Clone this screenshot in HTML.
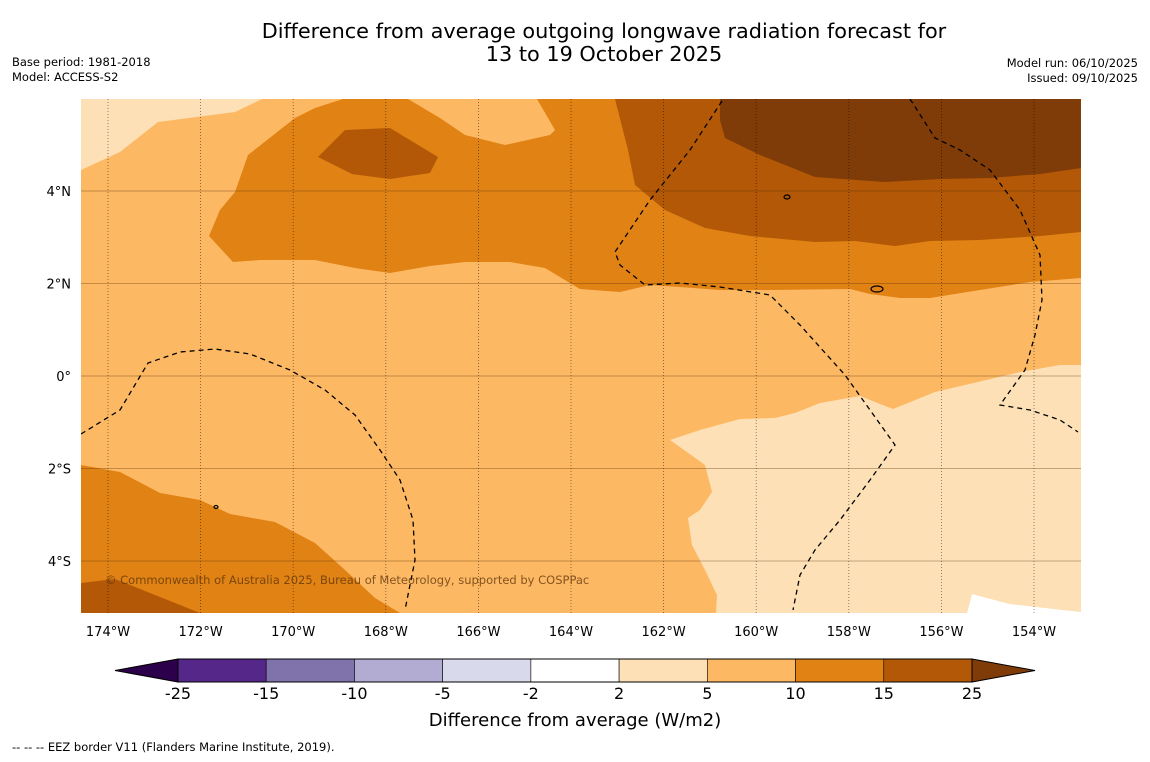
<!DOCTYPE html>
<html><head><meta charset="utf-8">
<style>
body{margin:0;background:#fff;font-family:"DejaVu Sans","Liberation Sans",sans-serif;}
svg text{font-family:"DejaVu Sans","Liberation Sans",sans-serif;}
</style></head>
<body>
<svg id="chart" width="1150" height="758" viewBox="0 0 1150 758" xmlns="http://www.w3.org/2000/svg">
<rect width="1150" height="758" fill="#fff"/>
<text x="604" y="38" font-size="20.8" text-anchor="middle">Difference from average outgoing longwave radiation forecast for</text>
<text x="604" y="61" font-size="20.8" text-anchor="middle">13 to 19 October 2025</text>
<text x="12" y="66" font-size="11.5">Base period: 1981-2018</text>
<text x="12" y="81" font-size="11.5">Model: ACCESS-S2</text>
<text x="1138" y="67" font-size="11.5" text-anchor="end">Model run: 06/10/2025</text>
<text x="1138" y="82" font-size="11.5" text-anchor="end">Issued: 09/10/2025</text>
<defs><clipPath id="mc"><rect x="81" y="99" width="1000" height="514"/></clipPath></defs>
<g clip-path="url(#mc)">
<rect x="81" y="99" width="1000" height="514" fill="#fdb863"/>
<path fill="#fee0b6" d="M81,99 L262,99 235,112 158,122 120,152 81,170Z"/>
<path fill="#e08214" d="M343,99 L408,99 440,118 465,135 505,145 550,135 555,130 537,99 L1081,99 L1081,278 1030,282 980,290 930,298 900,298 870,294 850,289 770,290 720,290 680,287 650,285 620,292 580,289 545,268 510,262 465,262 430,266 390,273 355,268 315,260 260,260 233,262 209,236 220,210 235,192 248,155 295,118 315,108Z"/>
<path fill="#b35806" d="M318,157 L345,130 390,128 438,157 430,173 390,179 352,174Z"/>
<path fill="#b35806" d="M615,99 L1081,99 1081,232 1040,236 980,240 930,241 895,246 855,241 815,242 750,236 705,228 665,210 635,185 628,150Z"/>
<path fill="#7f3b08" d="M720,99 L1081,99 1081,168 1040,174 990,178 940,179 885,182 815,177 760,155 725,138 720,120Z"/>
<path fill="#e08214" d="M81,465 L120,472 160,493 200,500 230,514 275,522 315,543 345,570 375,598 400,613 81,613Z"/>
<path fill="#b35806" d="M81,583 L115,579 150,593 200,613 81,613Z"/>
<path fill="#fee0b6" d="M670,440 L705,465 712,492 700,510 688,518 692,545 705,570 717,595 716,613 967,613 972,594 1010,604 1081,612 1081,365 1060,365 1020,372 965,385 935,392 893,409 860,396 820,403 795,413 775,418 740,419 700,430Z"/>
<path fill="#fff" d="M967,613 L972,594 1010,604 1081,612 1081,613Z"/>
<g id="grid"></g>
<g fill="none" stroke="#000" stroke-width="1.3" stroke-dasharray="5,4">
<path d="M81,434 L120,410 148,363 180,352 215,349 250,354 290,370 325,390 355,415 380,450 400,480 413,520 415,560 405,610"/>
<path d="M722,101 L690,150 650,200 615,252 620,265 645,285 680,283 720,287 770,295 800,325 845,375 870,410 895,445 870,480 840,520 815,550 800,575 793,610"/>
<path d="M910,99 L935,138 960,150 990,170 1020,210 1040,255 1042,300 1035,335 1025,370 1000,405 1030,410 1060,420 1078,432"/>
</g>
<g fill="none" stroke="#000" stroke-width="1.2">
<ellipse cx="787" cy="197" rx="3" ry="2"/><ellipse cx="877" cy="289" rx="6" ry="3"/><ellipse cx="216" cy="507" rx="2" ry="1.5"/>
</g>
<text x="105" y="584" font-size="11.5" fill="rgba(90,50,10,0.75)">© Commonwealth of Australia 2025, Bureau of Meteorology, supported by COSPPac</text>
</g>
<g id="axes"></g>
<g id="cbar"></g>
<text x="575" y="726" font-size="18" text-anchor="middle">Difference from average (W/m2)</text>
<text x="12" y="751" font-size="11.5">--  --  -- EEZ border V11 (Flanders Marine Institute, 2019).</text>
</svg>
<script>
const lonTicks=[-174,-172,-170,-168,-166,-164,-162,-160,-158,-156,-154];
const latTicks=[4,2,0,-2,-4];
const cbLevels=[-25,-15,-10,-5,-2,2,5,10,15,25];
const cbColors=["#542788","#8073ac","#b2abd2","#d8daeb","#ffffff","#fee0b6","#fdb863","#e08214","#b35806"];
const cbLow="#2d004b", cbHigh="#7f3b08";
const NS="http://www.w3.org/2000/svg";
const xs=lon=>108+(lon+174)*46.3;
const ys=lat=>376-lat*46.25;
function mk(t,a,p){const e=document.createElementNS(NS,t);for(const k in a)e.setAttribute(k,a[k]);p.appendChild(e);return e;}
const grid=document.getElementById('grid'),axes=document.getElementById('axes'),cb=document.getElementById('cbar');
lonTicks.forEach(l=>{
 const ln=mk('line',{x1:xs(l),x2:xs(l),y1:99,y2:613,stroke:'rgba(0,0,0,0.55)','stroke-width':0.8,'stroke-dasharray':'1,2'},grid);
 
 
 const t=mk('text',{x:xs(l),y:636,'font-size':13,'text-anchor':'middle'},axes);
 t.textContent=Math.abs(l)+'°W';
 
 
});
latTicks.forEach(l=>{
 const ln=mk('line',{x1:81,x2:1081,y1:ys(l),y2:ys(l),stroke:'rgba(90,50,10,0.35)','stroke-width':1},grid);
 
 
 const t=mk('text',{x:71,y:ys(l)+5,'font-size':13,'text-anchor':'end'},axes);
 t.textContent=l===0?'0°':Math.abs(l)+'°'+(l>0?'N':'S');
 
 
});
const cx0=178,cx1=972,cy=659,ch=23,n=cbColors.length,w=(cx1-cx0)/n;
const lo=mk('polygon',{points:`${cx0},${cy} 115,${cy+ch/2} ${cx0},${cy+ch}`,fill:cbLow,stroke:'#000','stroke-width':1},cb);


const hi=mk('polygon',{points:`${cx1},${cy} 1035,${cy+ch/2} ${cx1},${cy+ch}`,fill:cbHigh,stroke:'#000','stroke-width':1},cb);


cbColors.forEach((c,i)=>{
 const r=mk('rect',{x:cx0+i*w,y:cy,width:w,height:ch,fill:c,stroke:'#000','stroke-width':0.6},cb);
 
 
});
mk('rect',{x:cx0,y:cy,width:cx1-cx0,height:ch,fill:'none',stroke:'#000','stroke-width':1},cb);
cbLevels.forEach((v,i)=>{
 const t=mk('text',{x:cx0+i*w,y:699,'font-size':16,'text-anchor':'middle'},cb);
 t.textContent=v;
 
 
});
</script>
</body></html>
